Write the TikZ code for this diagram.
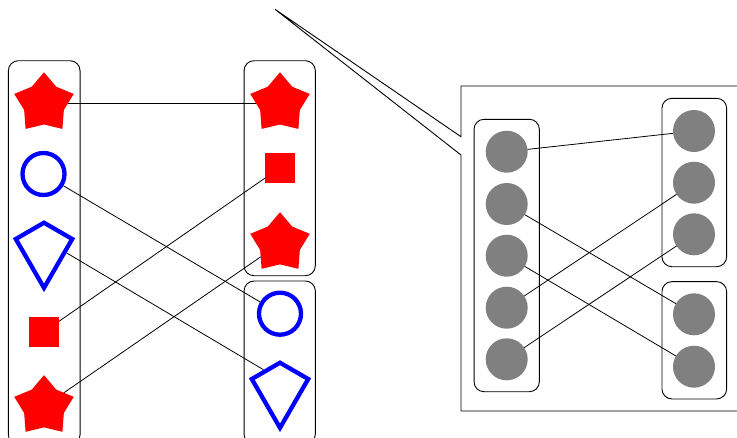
\documentclass[tikz,border=0pt]{standalone}
\usetikzlibrary{shapes.geometric}
\begin{document}
\begin{tikzpicture}[x=1pt,y=-1pt,
  grp/.style={draw=black, line width=0.9pt, rounded corners=10pt, inner sep=0pt, outer sep=0pt},
  rstar/.style={star, star points=5, star point ratio=1.5, fill=red, minimum size=62.6pt, inner sep=0pt, outer sep=0pt},
  rsq/.style={rectangle, fill=red, minimum size=30pt, inner sep=0pt, outer sep=0pt},
  bcirc/.style={circle, draw=blue, line width=4.3pt, minimum size=42pt, inner sep=0pt},
  bkite/.style={kite, kite upper vertex angle=120, kite lower vertex angle=60, draw=blue, line width=4.3pt, minimum width=56.4pt, inner sep=1pt},
  gdot/.style={circle, fill=black!50, minimum size=42pt, inner sep=0pt, outer sep=0pt},
  link/.style={draw=black, line width=0.8pt},
  callout/.style={draw=black, line width=0.9pt}
]
\useasboundingbox (0,0) rectangle (737,437);
\clip (0,0) rectangle (737,437);

% left part: groups
\node[grp, minimum width=71.7pt, minimum height=384pt] (gL) at (44.2,252.7) {};
\node[grp, minimum width=71.3pt, minimum height=215pt] (gR1) at (279.7,168.2) {};
\node[grp, minimum width=71.3pt, minimum height=163pt] (gR2) at (279.7,362.5) {};

% left column shapes
\node[rstar] (s1) at (44,103.6) {};
\node[bcirc] (c1) at (43.5,174) {};
\node[bkite] (k1) at (44,239.5) {};
\node[rsq] (q1) at (44,331.7) {};
\node[rstar] (s2) at (44,406.5) {};

% right column shapes
\node[rstar] (s3) at (280,103.6) {};
\node[rsq] (q2) at (280,167.7) {};
\node[rstar] (s4) at (280,243.5) {};
\node[bcirc] (c2) at (280,313.7) {};
\node[bkite] (k2) at (280,379.5) {};

% connectors
\draw[link] (s1) -- (s3);
\draw[link] (c1) -- (c2);
\draw[link] (k1) -- (k2);
\draw[link] (q1) -- (q2);
\draw[link] (s2) -- (s4);

% callout
\coordinate (tip) at (275,9.3);
\draw[callout] (tip) -- (461,136.7) -- (461,86) -- (760,86) -- (760,411) -- (461,411) -- (461,155) -- cycle;

% zoomed-in groups
\node[grp, minimum width=65.3pt, minimum height=272.4pt] (zL) at (506.7,255.5) {};
\node[grp, minimum width=64.7pt, minimum height=168.4pt] (zR1) at (694.3,182.5) {};
\node[grp, minimum width=64.7pt, minimum height=117.3pt] (zR2) at (694.3,340.3) {};

\node[gdot] (a1) at (506.7,151.7) {};
\node[gdot] (a2) at (506.7,204) {};
\node[gdot] (a3) at (506.7,255.7) {};
\node[gdot] (a4) at (506.7,307.7) {};
\node[gdot] (a5) at (506.7,359.3) {};

\node[gdot] (b1) at (694,131) {};
\node[gdot] (b2) at (694,182.7) {};
\node[gdot] (b3) at (694,234.3) {};
\node[gdot] (b4) at (694,314.3) {};
\node[gdot] (b5) at (694,366.7) {};

\draw[link] (a1) -- (b1);
\draw[link] (a2) -- (b4);
\draw[link] (a3) -- (b5);
\draw[link] (a4) -- (b2);
\draw[link] (a5) -- (b3);
\end{tikzpicture}
\end{document}
